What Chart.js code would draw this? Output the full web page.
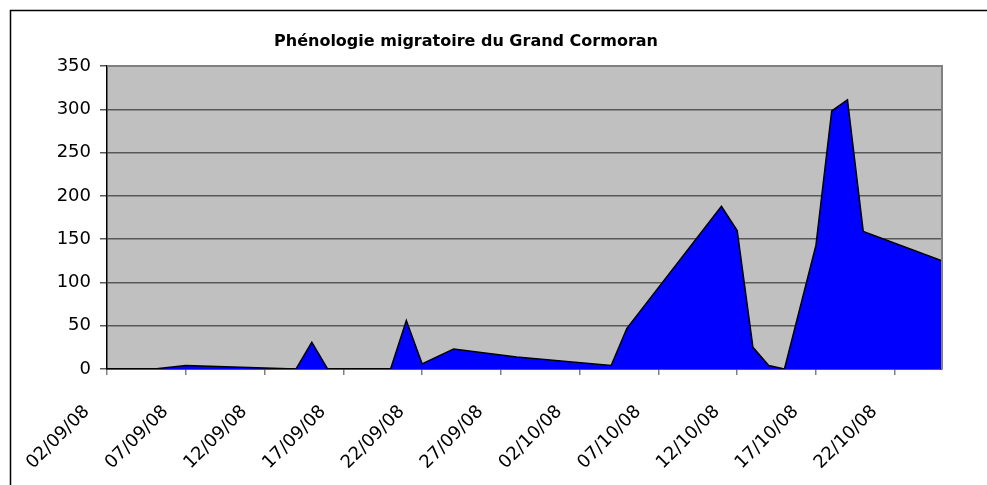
<!DOCTYPE html>
<html>
<head>
<meta charset="utf-8">
<script src="https://cdn.jsdelivr.net/npm/chart.js@4"></script>
<style>
  html, body { margin: 0; padding: 0; background: #fff; }
  #wrap { width: 987px; height: 485px; }
</style>
</head>
<body>
<div id="wrap"><canvas id="chart" width="987" height="485"></canvas></div>
<script>
// observation dates and counts (Grand Cormoran)
const dates = ["02/09/08", "05/09/08", "07/09/08", "14/09/08", "15/09/08", "16/09/08",
  "20/09/08", "21/09/08", "22/09/08", "24/09/08", "28/09/08", "04/10/08", "05/10/08",
  "11/10/08", "12/10/08", "13/10/08", "14/10/08", "15/10/08", "17/10/08", "18/10/08",
  "19/10/08", "20/10/08", "25/10/08"];
const counts = [0, 0, 4, 0, 31, 0, 0, 56, 6, 23, 14, 4, 47, 188, 160, 25, 4, 0, 143, 298, 311, 159, 125];

const tickLabels = ["02/09/08", "07/09/08", "12/09/08", "17/09/08", "22/09/08", "27/09/08",
  "02/10/08", "07/10/08", "12/10/08", "17/10/08", "22/10/08"];
const yTicks = [0, 50, 100, 150, 200, 250, 300, 350];

const title = "Phénologie migratoire du Grand Cormoran";

function toDay(s) {
  const p = s.split("/");
  return Date.UTC(2000 + +p[2], +p[1] - 1, +p[0]) / 86400000;
}
const day0 = toDay(dates[0]);
const lastDay = toDay(dates[dates.length - 1]) - day0;
const points = dates.map((d, i) => ({ x: toDay(d) - day0, y: counts[i] }));
const tickDays = tickLabels.map(t => toDay(t) - day0);

const FONT = "'DejaVu Sans', sans-serif";

const framePlugin = {
  id: "frame",
  beforeDraw(chart) {
    const { ctx, chartArea: a } = chart;
    ctx.save();
    ctx.fillStyle = "#ffffff";
    ctx.fillRect(0, 0, chart.width, chart.height);
    ctx.fillStyle = "#c0c0c0";
    ctx.fillRect(a.left, a.top, a.right - a.left, a.bottom - a.top);
    ctx.restore();
  },
  afterDraw(chart) {
    const { ctx, chartArea: a } = chart;
    ctx.save();
    // plot border top + right
    ctx.strokeStyle = "#808080";
    ctx.lineWidth = 2;
    ctx.beginPath();
    ctx.moveTo(a.left, a.top);
    ctx.lineTo(a.right, a.top);
    ctx.lineTo(a.right, a.bottom);
    ctx.stroke();
    // outer chart border
    ctx.strokeStyle = "#000000";
    ctx.lineWidth = 1.5;
    ctx.beginPath();
    ctx.moveTo(10.5, chart.height);
    ctx.lineTo(10.5, 10.5);
    ctx.lineTo(chart.width, 10.5);
    ctx.stroke();
    // title
    ctx.fillStyle = "#000";
    ctx.font = "bold 16px " + FONT;
    ctx.textAlign = "center";
    ctx.textBaseline = "alphabetic";
    ctx.fillText(title, 466, 46);
    ctx.restore();
  }
};

new Chart(document.getElementById("chart").getContext("2d"), {
  type: "line",
  data: {
    datasets: [{
      data: points,
      fill: "origin",
      backgroundColor: "#0000ff",
      borderColor: "#000000",
      borderWidth: 1.5,
      pointRadius: 0,
      tension: 0
    }]
  },
  options: {
    responsive: false,
    animation: false,
    layout: { padding: { left: 10, right: 45, top: 66, bottom: 0 } },
    plugins: {
      legend: { display: false },
      tooltip: { enabled: false },
      title: { display: false }
    },
    scales: {
      x: {
        type: "linear",
        min: 0,
        max: lastDay,
        afterBuildTicks: s => { s.ticks = tickDays.map(v => ({ value: v })); },
        afterFit: s => { s.height = 116; },
        grid: { drawOnChartArea: false, drawTicks: true, tickLength: 6, color: "#808080", lineWidth: 1.5 },
        border: { color: "#000", width: 1.5 },
        ticks: {
          minRotation: 45,
          maxRotation: 45,
          autoSkip: false,
          color: "#000",
          font: { family: FONT, size: 18 },
          padding: 6,
          callback: v => tickLabels[tickDays.indexOf(v)] + "     "
        }
      },
      y: {
        min: 0,
        max: 350,
        afterBuildTicks: s => { s.ticks = yTicks.map(v => ({ value: v })); },
        afterFit: s => { s.width = 97; },
        grid: { color: "#585858", lineWidth: 1.5, tickLength: 7 },
        border: { color: "#000", width: 1.5 },
        ticks: {
          color: "#000",
          font: { family: FONT, size: 18 },
          padding: 9
        }
      }
    }
  },
  plugins: [framePlugin]
});
</script>
</body>
</html>
